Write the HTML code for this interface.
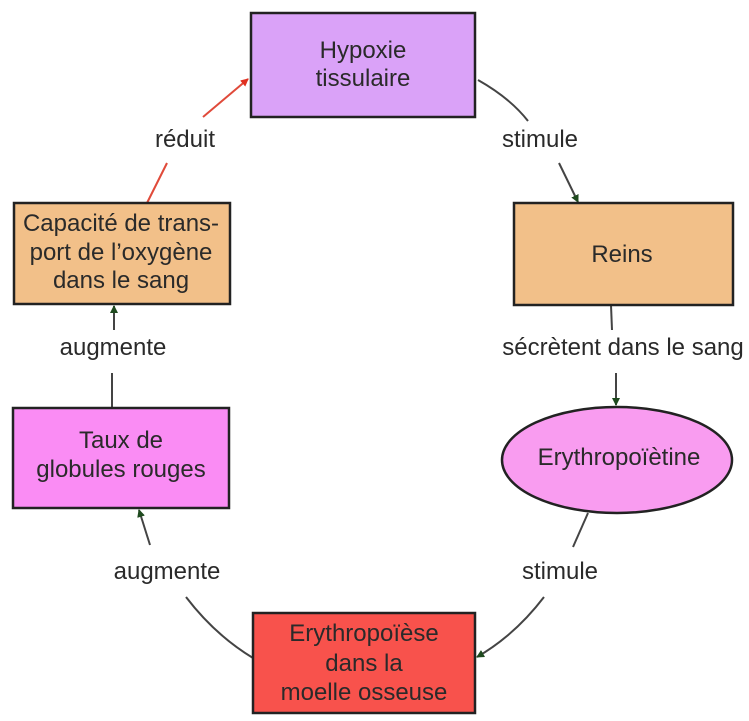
<!DOCTYPE html>
<html><head><meta charset="utf-8"><style>
html,body{margin:0;padding:0;background:#fff;}
svg{display:block;}
text{font-family:"Liberation Sans",Arial,sans-serif;font-size:24px;fill:#2a2a2a;text-anchor:middle;}
</style></head><body>
<svg width="749" height="721" viewBox="0 0 749 721" xmlns="http://www.w3.org/2000/svg">
<defs>
<marker id="g" markerWidth="8" markerHeight="8" refX="7" refY="4" orient="auto" markerUnits="userSpaceOnUse"><path d="M0,0 L8,4 L0,8 Z" fill="#1f4a1f"/></marker>
<marker id="r" markerWidth="8" markerHeight="8" refX="7" refY="4" orient="auto" markerUnits="userSpaceOnUse"><path d="M0,0 L8,4 L0,8 Z" fill="#e03020"/></marker>
</defs>
<g stroke-width="2" fill="none">
<line x1="147" y1="203" x2="167" y2="163" stroke="#e04a3a"/>
<line x1="203" y1="117" x2="248" y2="79" stroke="#e04a3a" marker-end="url(#r)"/>
<path d="M478,80 Q510,98 528,121" stroke="#444"/>
<line x1="559" y1="163" x2="578" y2="202" stroke="#444" marker-end="url(#g)"/>
<line x1="611" y1="305" x2="612" y2="330" stroke="#444"/>
<line x1="616" y1="373" x2="616" y2="405" stroke="#444" marker-end="url(#g)"/>
<line x1="588" y1="513" x2="573" y2="547" stroke="#444"/>
<path d="M544,597 Q515,635 477,657" stroke="#444" marker-end="url(#g)"/>
<path d="M186,597 Q215,635 253,658" stroke="#444"/>
<line x1="150" y1="545" x2="139" y2="510" stroke="#444" marker-end="url(#g)"/>
<line x1="112" y1="407" x2="112" y2="373" stroke="#444"/>
<line x1="114" y1="330" x2="114" y2="306" stroke="#444" marker-end="url(#g)"/>
</g>
<g stroke="#222" stroke-width="2.5">
<rect x="251" y="13" width="224" height="104" fill="#daa2f8"/>
<rect x="14" y="203" width="216" height="101" fill="#f2c089"/>
<rect x="514" y="203" width="219" height="102" fill="#f2c089"/>
<rect x="13" y="408" width="216" height="100" fill="#fa8cf4"/>
<ellipse cx="617" cy="460" rx="115" ry="53" fill="#f99cf0"/>
<rect x="253" y="613" width="222" height="100" fill="#f8524c"/>
</g>
<text x="363" y="58">Hypoxie</text>
<text x="363" y="86">tissulaire</text>
<text x="121" y="231">Capacité de trans-</text>
<text x="121" y="260">port de l’oxygène</text>
<text x="121" y="288">dans le sang</text>
<text x="622" y="262">Reins</text>
<text x="121" y="448">Taux de</text>
<text x="121" y="477">globules rouges</text>
<text x="619" y="465">Erythropoïètine</text>
<text x="364" y="641">Erythropoïèse</text>
<text x="364" y="671">dans la</text>
<text x="364" y="700">moelle osseuse</text>
<text x="185" y="147">réduit</text>
<text x="540" y="147">stimule</text>
<text x="113" y="355">augmente</text>
<text x="623" y="355">sécrètent dans le sang</text>
<text x="167" y="579">augmente</text>
<text x="560" y="579">stimule</text>
</svg>
</body></html>
